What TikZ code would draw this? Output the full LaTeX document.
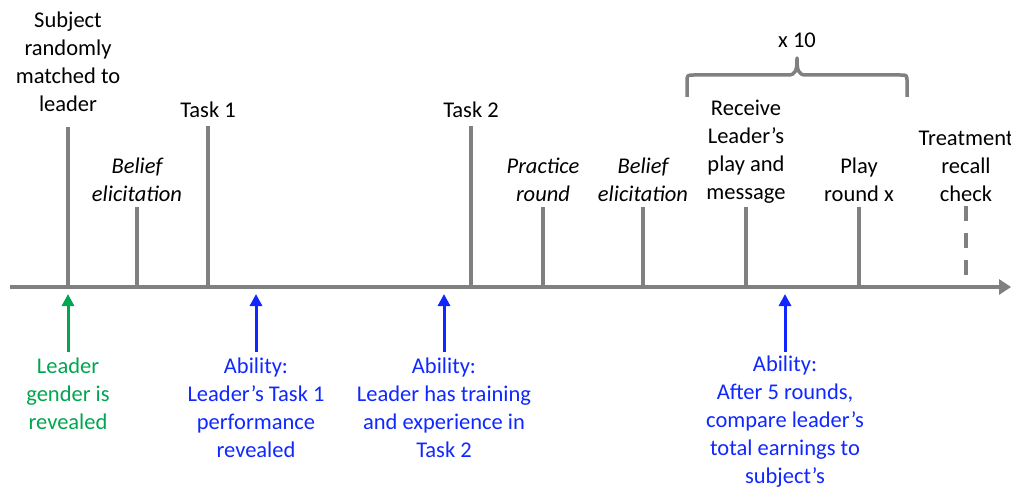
\documentclass[tikz,border=0pt]{standalone}
\usepackage{fontspec}
\setmainfont{Carlito}
\usetikzlibrary{arrows.meta}
\definecolor{tlgray}{RGB}{128,128,128}
\definecolor{tlgreen}{RGB}{0,166,80}
\definecolor{tlblue}{RGB}{16,40,255}
\tikzset{
  lbl/.style={align=center, inner sep=0pt, font=\fontsize{22.5}{28}\selectfont},
  ilbl/.style={lbl, font=\fontsize{22.5}{28}\selectfont\itshape},
  tick/.style={draw=tlgray, line width=3.5pt},
  uparrow/.style={line width=3pt, -{Triangle[width=12pt,length=12pt]}},
}
\begin{document}
\begin{tikzpicture}[x=1pt,y=-1pt]
\useasboundingbox (0,0) rectangle (1011,489);
% timeline
\coordinate (tlstart) at (10,287);
\coordinate (tlend) at (1011,287);
\draw[draw=tlgray, line width=4pt, -{Triangle[width=15pt,length=12pt]}] (tlstart) -- (tlend);
% ticks
\foreach \n/\x/\t in {a/68/127, b/137/207, c/208/126, d/471/126, e/543/207, f/643/207, g/746/207, h/859/207}{
  \coordinate (\n top) at (\x,\t);
  \coordinate (\n bot) at (\x,287);
  \draw[tick] (\n top) -- (\n bot);
}
\coordinate (itop) at (966,206);
\coordinate (ibot) at (966,275);
\draw[tick, dash pattern=on 15pt off 12pt] (itop) -- (ibot);
% labels above
\node[lbl] (la) at (68,62) {Subject\\randomly\\matched to\\leader};
\node[ilbl] (lb) at (137,180) {Belief\\elicitation};
\node[lbl] (lc) at (208,110) {Task 1};
\node[lbl] (ld) at (471,110) {Task 2};
\node[ilbl] (le) at (543,180) {Practice\\round};
\node[ilbl] (lf) at (643,180) {Belief\\elicitation};
\node[lbl] (lg) at (746,152) {Receive\\Leader’s\\play and\\message};
\node[lbl] (lh) at (859,180) {Play\\round x};
\node[lbl] (li) at (966,166) {Treatment\\recall\\check};
% brace
\node[lbl] (x10) at (797,40) {x 10};
\coordinate (bl) at (687,97);
\coordinate (br) at (907,97);
\coordinate (bm) at (797,58);
\draw[draw=tlgray, line width=3.5pt, line join=round]
  (bl) -- (687,82) .. controls (687,75) .. (694,75) -- (788,75)
  .. controls (796,75) and (797,70) .. (bm)
  .. controls (797,70) and (798,75) .. (806,75) -- (900,75)
  .. controls (907,75) .. (907,82) -- (br);
% arrows below
\coordinate (ga) at (68,352); \coordinate (gb) at (68,294);
\draw[uparrow, tlgreen] (ga) -- (gb);
\coordinate (b1a) at (256,352); \coordinate (b1b) at (256,294);
\draw[uparrow, tlblue] (b1a) -- (b1b);
\coordinate (b2a) at (444,352); \coordinate (b2b) at (444,294);
\draw[uparrow, tlblue] (b2a) -- (b2b);
\coordinate (b3a) at (785,352); \coordinate (b3b) at (785,294);
\draw[uparrow, tlblue] (b3a) -- (b3b);
\node[lbl, text=tlgreen] (gl) at (68,394) {Leader\\gender is\\revealed};
\node[lbl, text=tlblue] (b1l) at (256,408) {Ability:\\Leader’s Task 1\\performance\\revealed};
\node[lbl, text=tlblue] (b2l) at (444,408) {Ability:\\Leader has training\\and experience in\\Task 2};
\node[lbl, text=tlblue] (b3l) at (785,422) {Ability:\\After 5 rounds,\\compare leader’s\\total earnings to\\subject’s};
\end{tikzpicture}
\end{document}
